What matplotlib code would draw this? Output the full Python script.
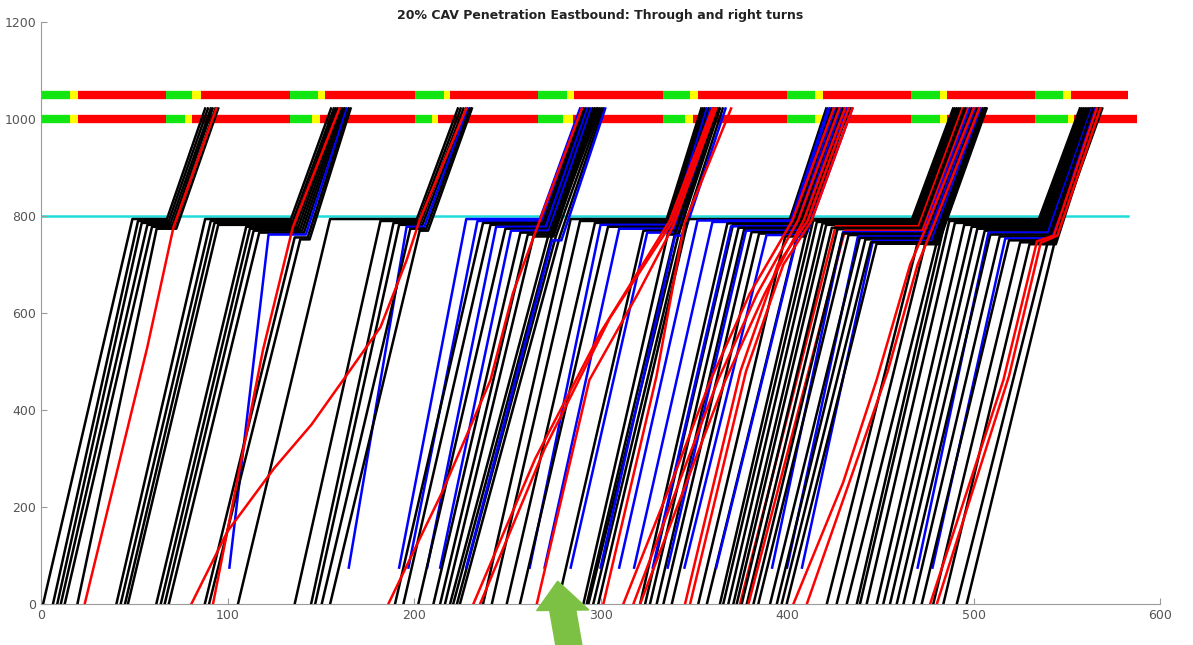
import matplotlib
matplotlib.use("Agg")
import matplotlib.pyplot as plt
from matplotlib.patches import FancyArrow

# signal timing (s): green start, amber start, red start for each cycle
top_green = [0, 67, 133.5, 200.5, 266.5, 333.5, 400.2, 466.3, 533]
top_amber = [15.5, 80.7, 148.5, 216, 282, 348, 415, 482, 548.2]
top_red = [19.8, 86, 152.5, 219.5, 286, 352.5, 419.1, 486, 552.3]
top_end = 583
low_green = [0, 67, 133.5, 200.5, 266.5, 333.5, 400.2, 466.3, 533]
low_amber = [15.5, 77, 145.3, 209.6, 280, 345.3, 415, 482, 550.4]
low_red = [19.8, 80.7, 149.6, 213, 285, 349.6, 419.5, 486, 554]
low_end = 587.5
stop_line = 800
exit_pos = 1022

# vehicles that queue: colour, start time, start pos, arrive, queue pos, leave, exit time
platoon_1 = [
    ("k", 1.1, 0, 49.0, 794, 67.5, 88.0),
    ("k", 6.4, 0, 52.0, 790, 68.5, 89.5),
    ("k", 8.7, 0, 54.0, 786, 69.5, 91.0),
    ("k", 10.6, 0, 57.0, 782, 70.5, 92.0),
    ("k", 12.7, 0, 59.5, 778, 71.5, 93.5),
    ("k", 19.5, 0, 62.0, 774, 72.5, 95.0),
]
platoon_2 = [
    ("k", 40.4, 0, 88.0, 794, 134.0, 155.5),
    ("k", 42.7, 0, 91.0, 790, 135.0, 157.0),
    ("k", 45.0, 0, 93.0, 786, 136.0, 158.0),
    ("k", 46.6, 0, 95.0, 782, 137.0, 159.0),
    ("k", 61.8, 0, 110.0, 778, 138.0, 160.0),
    ("k", 64.2, 0, 112.0, 774, 139.0, 161.0),
    ("k", 66.3, 0, 114.0, 770, 140.0, 162.0),
    ("k", 68.5, 0, 117.0, 766, 141.0, 163.0),
    ("b", 101.0, 75, 122.0, 762, 142.0, 164.0),
    ("k", 87.8, 0, 136.0, 756, 143.0, 165.0),
    ("k", 90.1, 0, 139.0, 752, 144.0, 166.0),
]
platoon_3 = [
    ("k", 105.6, 0, 155.0, 794, 201.5, 223.5),
    ("k", 136.0, 0, 182.0, 790, 202.5, 225.0),
    ("k", 144.8, 0, 189.0, 786, 203.5, 226.5),
    ("k", 147.0, 0, 192.0, 782, 204.5, 228.0),
    ("b", 165.0, 75, 196.0, 778, 205.5, 229.0),
    ("k", 150.5, 0, 198.0, 774, 206.5, 230.0),
    ("k", 155.0, 0, 203.0, 770, 207.5, 231.0),
]
platoon_4 = [
    ("b", 192.0, 75, 228.0, 794, 267.5, 289.0),
    ("b", 197.0, 75, 234.0, 790, 268.3, 290.0),
    ("k", 189.8, 0, 237.0, 786, 269.1, 291.0),
    ("k", 194.3, 0, 241.0, 782, 269.9, 292.0),
    ("b", 207.0, 75, 244.0, 778, 270.7, 293.0),
    ("k", 202.3, 0, 249.0, 774, 271.5, 294.0),
    ("b", 214.0, 75, 252.0, 770, 272.3, 295.0),
    ("k", 210.4, 0, 257.0, 766, 273.1, 296.0),
    ("k", 214.0, 0, 261.0, 762, 273.9, 297.0),
    ("k", 216.6, 0, 264.0, 758, 274.7, 298.0),
    ("k", 219.3, 0, 272.0, 760, 272.0, 298.5),
    ("k", 221.0, 0, 274.0, 760, 274.0, 299.5),
    ("k", 223.0, 0, 276.0, 758, 276.0, 300.5),
    ("k", 224.6, 0, 278.0, 756, 278.0, 301.5),
    ("b", 228.0, 75, 274.0, 750, 279.0, 302.5),
]
platoon_5 = [
    ("k", 237.0, 0, 284.0, 794, 335.5, 354.0),
    ("k", 241.7, 0, 289.0, 790, 336.3, 355.0),
    ("k", 249.7, 0, 297.0, 786, 337.1, 356.0),
    ("b", 262.0, 75, 300.0, 782, 337.9, 357.0),
    ("k", 256.8, 0, 304.0, 778, 338.7, 358.0),
    ("b", 270.0, 75, 310.0, 774, 339.5, 359.0),
    ("k", 277.0, 0, 323.0, 770, 340.3, 360.0),
    ("b", 284.0, 75, 325.0, 766, 341.1, 361.0),
    ("k", 290.8, 0, 336.0, 762, 341.9, 362.0),
    ("k", 292.6, 0, 340.0, 765, 340.0, 363.0),
    ("k", 293.5, 0, 342.0, 765, 342.0, 364.0),
    ("k", 296.1, 0, 344.0, 765, 344.0, 365.5),
    ("b", 300.0, 75, 340.0, 760, 344.5, 367.0),
]
platoon_6 = [
    ("k", 298.8, 0, 347.0, 794, 401.5, 421.0),
    ("b", 310.0, 75, 352.0, 791, 402.2, 422.0),
    ("b", 318.0, 75, 360.0, 788, 402.9, 423.0),
    ("k", 321.2, 0, 368.0, 785, 403.6, 424.0),
    ("k", 323.9, 0, 371.0, 782, 404.3, 425.0),
    ("b", 328.0, 75, 370.0, 779, 405.0, 426.0),
    ("k", 326.5, 0, 374.0, 776, 405.7, 427.0),
    ("k", 330.1, 0, 377.0, 773, 406.4, 428.0),
    ("b", 336.0, 75, 378.0, 770, 407.1, 429.0),
    ("k", 333.7, 0, 381.0, 767, 407.8, 430.0),
    ("k", 338.2, 0, 385.0, 764, 408.5, 431.0),
    ("b", 345.0, 75, 389.0, 761, 409.2, 432.0),
    ("k", 352.4, 0, 399.0, 758, 409.9, 433.0),
    ("k", 357.0, 0, 406.0, 770, 406.0, 434.0),
    ("b", 362.0, 75, 406.0, 765, 410.6, 435.0),
]
platoon_7 = [
    ("k", 364.0, 0, 412.0, 794, 467.0, 489.0),
    ("k", 365.8, 0, 414.0, 791, 467.7, 490.0),
    ("k", 368.5, 0, 416.0, 788, 468.4, 491.0),
    ("k", 371.2, 0, 419.0, 785, 469.1, 492.0),
    ("k", 373.0, 0, 421.0, 782, 469.8, 493.0),
    ("r", 374.8, 0, 426.0, 779, 470.5, 494.0),
    ("k", 375.7, 0, 424.0, 776, 471.2, 495.0),
    ("k", 378.4, 0, 427.0, 773, 471.9, 496.0),
    ("r", 379.3, 0, 431.0, 770, 472.6, 497.0),
    ("b", 392.0, 75, 430.0, 767, 473.3, 498.0),
    ("k", 382.0, 0, 430.0, 764, 474.0, 499.0),
    ("k", 384.6, 0, 433.0, 761, 474.7, 500.0),
    ("b", 400.0, 75, 438.0, 758, 475.4, 501.0),
    ("k", 390.9, 0, 439.0, 755, 476.1, 502.0),
    ("k", 394.5, 0, 442.0, 752, 476.8, 503.0),
    ("b", 408.0, 75, 446.0, 749, 477.5, 504.0),
    ("k", 397.1, 0, 445.0, 746, 478.2, 505.0),
    ("k", 399.8, 0, 448.0, 743, 478.9, 506.0),
    ("k", 421.3, 0, 470.0, 745, 479.6, 506.0),
    ("k", 426.6, 0, 474.0, 742, 480.3, 506.5),
    ("k", 432.0, 0, 480.0, 742, 481.0, 507.0),
]
platoon_8 = [
    ("k", 437.4, 0, 485.0, 794, 535.0, 557.0),
    ("k", 439.1, 0, 487.0, 790, 535.7, 558.0),
    ("k", 442.7, 0, 490.0, 786, 536.4, 559.0),
    ("k", 448.1, 0, 495.0, 782, 537.1, 560.0),
    ("k", 451.6, 0, 499.0, 778, 537.8, 561.0),
    ("k", 455.2, 0, 502.0, 774, 538.5, 562.0),
    ("k", 458.8, 0, 506.0, 770, 539.2, 563.0),
    ("b", 470.0, 75, 508.0, 766, 539.9, 563.5),
    ("k", 462.4, 0, 509.0, 762, 540.6, 564.0),
    ("k", 467.7, 0, 514.0, 758, 541.3, 565.0),
    ("b", 478.0, 75, 517.0, 754, 542.0, 565.5),
    ("k", 472.2, 0, 519.0, 750, 542.7, 566.0),
    ("k", 478.4, 0, 525.0, 746, 543.4, 567.0),
    ("k", 483.8, 0, 530.0, 742, 544.1, 567.5),
    ("k", 491.0, 0, 540.0, 750, 540.0, 568.0),
    ("k", 496.3, 0, 544.0, 755, 544.0, 569.0),
]

# CAVs (red) that adapt their speed: (time, position) points
cav_paths = [
    [(23.4, 0), (57, 530), (71, 777), (94, 1022)],
    [(80.6, 0), (100, 150), (125, 280), (145, 370), (162, 462), (182, 571), (196, 709), (203, 792), (228, 1022)],
    [(92.2, 0), (119, 524), (135, 777), (160, 1022)],
    [(186.2, 0), (215, 230), (241, 462), (253, 641), (267.5, 792), (290, 1022)],
    [(231.8, 0), (265, 300), (300, 560), (337, 790), (360, 1022)],
    [(235.4, 0), (270, 320), (305, 590), (338, 785), (361, 1022)],
    [(265.8, 0), (294, 462), (320, 640), (339, 780), (362, 1022)],
    [(301.5, 0), (330, 470), (345, 785), (370, 1022)],
    [(312.2, 0), (340, 270), (359, 462), (380, 640), (403, 792), (425, 1022)],
    [(317.6, 0), (344, 270), (363, 462), (384, 640), (406, 792), (428, 1022)],
    [(321.2, 0), (348, 270), (367, 462), (388, 640), (409, 792), (431, 1022)],
    [(345.3, 0), (375, 480), (395, 700), (411, 790), (433, 1022)],
    [(348.0, 0), (378, 480), (398, 700), (413, 790), (435, 1022)],
    [(403.4, 0), (430, 250), (448, 462), (466, 700), (476, 790), (500, 1022)],
    [(410.6, 0), (436, 280), (454, 480), (470, 700), (479, 785), (503, 1022)],
    [(476.7, 0), (516, 462), (534, 748), (543, 760), (566, 1022)],
    [(480.3, 0), (519, 470), (536, 745), (545, 760), (568, 1022)],
]

colours = {"k": "#000000", "b": "#0000ff", "r": "#ff0000"}
sig_green, sig_amber, sig_red = "#12e612", "#ffff00", "#ff0000"

fig = plt.figure(figsize=(11.93, 6.45), dpi=100)
ax = fig.add_axes([0.0344, 0.0636, 0.938, 0.902])


def draw_signal(ax, y, greens, ambers, reds, end):
    for i in range(len(greens)):
        ax.plot([greens[i], ambers[i]], [y, y], color=sig_green, lw=6, solid_capstyle="butt", zorder=2)
        ax.plot([ambers[i], reds[i]], [y, y], color=sig_amber, lw=6, solid_capstyle="butt", zorder=2)
        nxt = greens[i + 1] if i + 1 < len(greens) else end
        ax.plot([reds[i], nxt], [y, y], color=sig_red, lw=6, solid_capstyle="butt", zorder=2)


draw_signal(ax, 1050, top_green, top_amber, top_red, top_end)
draw_signal(ax, 1000, low_green, low_amber, low_red, low_end)
ax.plot([0, top_end], [stop_line, stop_line], color="#1fdcdc", lw=1.8, zorder=1)

for platoon in [platoon_1, platoon_2, platoon_3, platoon_4, platoon_5, platoon_6, platoon_7, platoon_8]:
    for c, t0, y0, ta, q, td, te in platoon:
        ax.plot([t0, ta, td, te], [y0, q, q, exit_pos], color=colours[c], lw=1.8,
                solid_joinstyle="round", zorder=3)

for path in cav_paths:
    ax.plot([p[0] for p in path], [p[1] for p in path], color=colours["r"], lw=1.8,
            solid_joinstyle="round", zorder=4)

ax.add_patch(FancyArrow(283, -85, -6, 132, width=14, head_width=28, head_length=60,
                        length_includes_head=True, color="#7dc144", clip_on=False, zorder=6))

ax.set_xlim(0, 600)
ax.set_ylim(0, 1200)
ax.set_xticks(range(0, 601, 100))
ax.set_yticks(range(0, 1201, 200))
ax.spines["top"].set_visible(False)
ax.spines["right"].set_visible(False)
for s in ["left", "bottom"]:
    ax.spines[s].set_color("#9a9a9a")
ax.tick_params(direction="in", length=4, color="#9a9a9a", labelcolor="#555555", labelsize=9)
ax.set_title("20% CAV Penetration Eastbound: Through and right turns", fontsize=9,
             fontweight="bold", color="#222222", pad=1)

fig.savefig("out.png", dpi=100)
